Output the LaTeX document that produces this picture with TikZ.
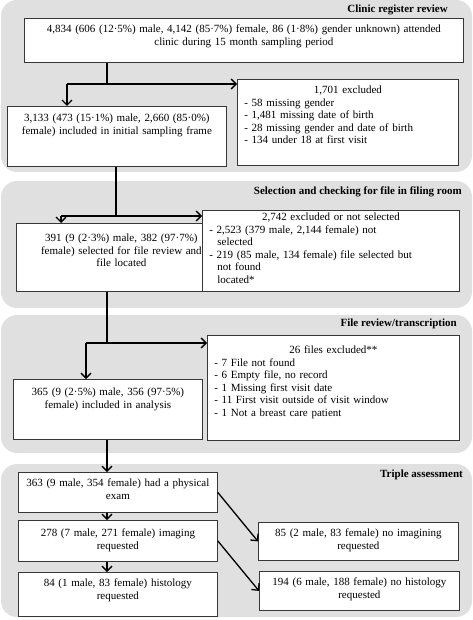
\documentclass[tikz,border=0pt]{standalone}
\usepackage{fontspec}
\setmainfont{Liberation Serif}
\usepackage{xcolor}
\usetikzlibrary{arrows.meta,positioning}
\definecolor{panelgray}{RGB}{224,224,224}
\definecolor{boxline}{RGB}{55,55,55}
\tikzset{
  panel/.style={fill=panelgray, rounded corners=16pt},
  stage/.style={anchor=east, inner sep=0pt, font=\fontsize{11}{12.5}\selectfont\bfseries},
  box/.style={rectangle, draw=boxline, line width=0.8pt, fill=white, anchor=north west,
              inner xsep=4pt, inner ysep=0pt, align=center, font=\fontsize{11}{12.5}\selectfont},
  list/.style={box, align=left, inner xsep=7pt},
  link/.style={draw=black, line width=1.3pt},
  flow/.style={link, -{Straight Barb[length=5pt,width=10pt]}},
}

\begin{document}
\begin{tikzpicture}[x=1pt, y=-1pt]
\useasboundingbox (0,0) rectangle (473,620);

% stages
\fill[panel] (1,0) rectangle (472,172);
\fill[panel] (1,181) rectangle (472,308);
\fill[panel] (1,315) rectangle (472,453);
\fill[panel] (1,464) rectangle (472,617);
\node[stage] (t1) at (448,9.5) {Clinic register review};
\node[stage] (t2) at (462,192) {Selection and checking for file in filing room};
\node[stage] (t3) at (457,324) {File review/transcription};
\node[stage] (t4) at (463,475) {Triple assessment};

% boxes
\node[box, text width=431pt, text height=14.5pt, text depth=29.5pt] (reg) at (24,18)
  {4,834 (606 (12·5\%) male, 4,142 (85·7\%) female, 86 (1·8\%) gender unknown) attended\\
   clinic during 15 month sampling period};
\node[box, text width=211pt, text height=15.5pt, text depth=44.5pt] (frame) at (7,106)
  {3,133 (473 (15·1\%) male, 2,660 (85·0\%)\\ female) included in initial sampling frame};
\node[list, text width=207pt, text height=14.5pt, text depth=71.5pt] (excl1) at (237,79)
  {\makebox[\linewidth]{1,701 excluded}\\
   - 58 missing gender\\
   - 1,481 missing date of birth\\
   - 28 missing gender and date of birth\\
   - 134 under 18 at first visit};

\node[box, text width=202pt, text height=18.5pt, text depth=49.5pt] (located) at (16,223)
  {391 (9 (2·3\%) male, 382 (97·7\%)\\ female) selected for file review and\\ file located};
\node[list, text width=243pt, text height=10.5pt, text depth=70.5pt] (excl2) at (202,210)
  {\makebox[\linewidth]{2,742 excluded or not selected}\\
   - 2,523 (379 male, 2,144 female) not\\
   \hspace*{8pt}selected\\
   - 219 (85 male, 134 female) file selected but\\
   \hspace*{8pt}not found\\
   \hspace*{8pt}located*};

\node[box, text width=181pt, text height=16.5pt, text depth=43.5pt] (analysis) at (13,379)
  {365 (9 (2·5\%) male, 356 (97·5\%)\\ female) included in analysis};
\node[list, text width=238pt, text height=18.5pt, text depth=86.5pt] (excl3) at (207,335)
  {\makebox[\linewidth]{26 files excluded**}\\
   - 7 File not found\\
   - 6 Empty file, no record\\
   - 1 Missing first visit date\\
   - 11 First visit outside of visit window\\
   - 1 Not a breast care patient};

\node[box, text width=191pt, text height=14.5pt, text depth=25.5pt] (exam) at (18,472)
  {363 (9 male, 354 female) had a physical\\ exam};
\node[box, text width=191pt, text height=16.5pt, text depth=24.5pt] (img) at (18,520)
  {278 (7 male, 271 female) imaging\\ requested};
\node[box, text width=191pt, text height=14.5pt, text depth=29.5pt] (hist) at (18,572)
  {84 (1 male, 83 female) histology\\ requested};
\node[box, text width=192pt, text height=14.5pt, text depth=23.5pt] (noimg) at (258,522)
  {85 (2 male, 83 female) no imagining\\ requested};
\node[box, text width=192pt, text height=14.5pt, text depth=24.5pt] (nohist) at (259,571)
  {194 (6 male, 188 female) no histology\\ requested};

% connectors
\coordinate (spine) at (107,0);
\coordinate (j1) at (107,84);
\coordinate (j1l) at (67,84);
\draw[link] (reg.south -| spine) -- (j1);
\draw[flow] (j1l) -- (j1l -| excl1.west);
\draw[flow] (j1l) -- (j1l |- frame.north);

\coordinate (j2) at (116,216);
\coordinate (j2l) at (61,216);
\draw[link] (frame.south -| j2) -- (j2);
\draw[flow] (j2l) -- (j2l -| excl2.west);
\draw[flow] (j2l) -- (j2l |- located.north);

\coordinate (j3) at (107,343);
\coordinate (j3l) at (86,343);
\draw[link] (located.south -| j3) -- (j3);
\draw[flow] (j3l) -- (j3l -| excl3.west);
\draw[flow] (j3l) -- (j3l |- analysis.north);

\draw[flow] (analysis.south -| spine) -- (exam.north -| spine);
\draw[flow] (exam.south -| spine) -- (img.north -| spine);
\draw[flow] (img.south -| spine) -- (hist.north -| spine);
\draw[flow] (exam.east) -- (noimg.west);
\draw[flow] (img.east) -- (nohist.west);
\end{tikzpicture}
\end{document}
